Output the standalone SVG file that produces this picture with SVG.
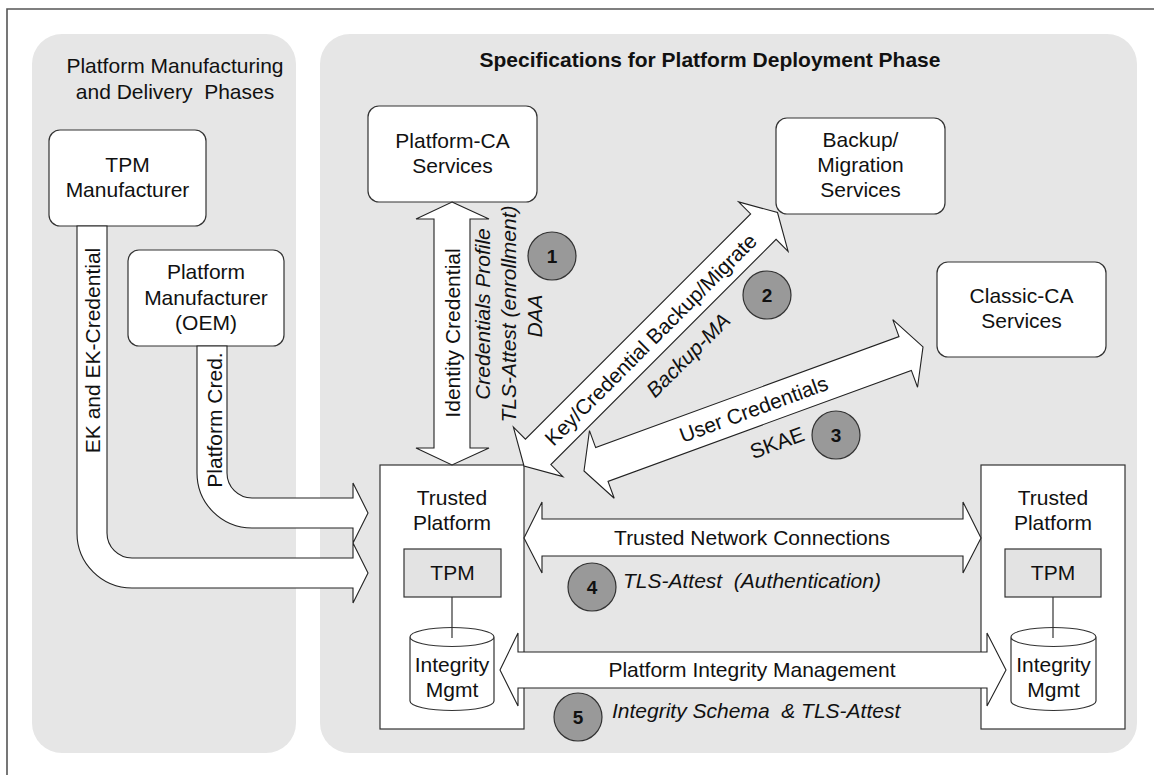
<svg xmlns="http://www.w3.org/2000/svg" width="1154" height="775" viewBox="0 0 1154 775">
  <defs>
    <style>
      .frame { fill: none; stroke: #555; stroke-width: 1.6; }
      .panel { fill: #e6e6e6; stroke: none; }
      .box { fill: #fff; stroke: #333; stroke-width: 1.2; }
      .tp { fill: #fff; stroke: #333; stroke-width: 1.2; }
      .chip { fill: #e3e3e3; stroke: #333; stroke-width: 1.2; }
      .arrow { fill: #fff; stroke: #222; stroke-width: 1.1; stroke-linejoin: miter; }
      .wire { stroke: #333; stroke-width: 1.2; fill: none; }
      .badge { fill: #999; stroke: #333; stroke-width: 1.2; }
      text { font-family: "Liberation Sans", Arial, sans-serif; font-size: 21px; fill: #111; }
      .c { text-anchor: middle; }
      .it { font-style: italic; }
      .title { font-weight: bold; }
      .num { font-weight: bold; font-size: 19px; text-anchor: middle; }
    </style>
  </defs>

  <!-- outer frame -->
  <path class="frame" d="M7,775 L7,9 L1154,9"/>

  <!-- phase panels -->
  <g id="panel-manufacturing">
    <rect class="panel" x="32" y="34" width="264" height="719" rx="30"/>
    <text class="c" x="175" y="73">Platform Manufacturing</text>
    <text class="c" x="175" y="99" xml:space="preserve">and Delivery  Phases</text>
  </g>
  <g id="panel-deployment">
    <rect class="panel" x="320" y="34" width="817" height="719" rx="30"/>
    <text class="c title" x="710" y="67">Specifications for Platform Deployment Phase</text>
  </g>

  <!-- nodes -->
  <g id="tpm-manufacturer">
    <rect class="box" x="49" y="130" width="157" height="96" rx="11"/>
    <text class="c" x="127.5" y="172">TPM</text>
    <text class="c" x="127.5" y="197">Manufacturer</text>
  </g>

  <g id="platform-manufacturer">
    <rect class="box" x="128" y="250" width="156" height="96" rx="11"/>
    <text class="c" x="206" y="279">Platform</text>
    <text class="c" x="206" y="305">Manufacturer</text>
    <text class="c" x="206" y="330">(OEM)</text>
  </g>

  <g id="platform-ca">
    <rect class="box" x="368" y="106" width="169" height="96" rx="11"/>
    <text class="c" x="452.5" y="148">Platform-CA</text>
    <text class="c" x="452.5" y="173">Services</text>
  </g>

  <g id="backup-migration">
    <rect class="box" x="776" y="118" width="169" height="96" rx="11"/>
    <text class="c" x="860.5" y="147">Backup/</text>
    <text class="c" x="860.5" y="172">Migration</text>
    <text class="c" x="860.5" y="197">Services</text>
  </g>

  <g id="classic-ca">
    <rect class="box" x="937" y="262" width="169" height="95" rx="11"/>
    <text class="c" x="1021.5" y="303">Classic-CA</text>
    <text class="c" x="1021.5" y="328">Services</text>
  </g>

  <g id="trusted-platform-local">
    <rect class="tp" x="380" y="465" width="144" height="264"/>
    <text class="c" x="452" y="505">Trusted</text>
    <text class="c" x="452" y="530">Platform</text>
    <rect class="chip" x="404" y="549" width="97" height="48"/>
    <text class="c" x="452.5" y="580">TPM</text>
    <path class="box" d="M410,637 L410,701 A42,9.5 0 0 0 494,701 L494,637 A42,9.5 0 0 0 410,637 A42,9.5 0 0 0 494,637"/>
    <line class="wire" x1="452" y1="597" x2="452" y2="638"/>
    <text class="c" x="452" y="672">Integrity</text>
    <text class="c" x="452" y="697">Mgmt</text>
  </g>

  <g id="trusted-platform-remote">
    <rect class="tp" x="981" y="465" width="144" height="264"/>
    <text class="c" x="1053" y="505">Trusted</text>
    <text class="c" x="1053" y="530">Platform</text>
    <rect class="chip" x="1005" y="549" width="96" height="48"/>
    <text class="c" x="1053" y="580">TPM</text>
    <path class="box" d="M1011,637 L1011,701 A42.5,9.5 0 0 0 1096,701 L1096,637 A42.5,9.5 0 0 0 1011,637 A42.5,9.5 0 0 0 1096,637"/>
    <line class="wire" x1="1053" y1="597" x2="1053" y2="638"/>
    <text class="c" x="1053.5" y="672">Integrity</text>
    <text class="c" x="1053.5" y="697">Mgmt</text>
  </g>

  <!-- connectors (block arrows drawn over the node frames they touch) -->
  <g id="connectors">
    <!-- EK and EK-Credential -->
    <path class="arrow" d="M77,226 L107,226 L107,533 A25,25 0 0 0 132,558 L353,558 L353,543 L368,573 L353,603 L353,588 L132,588 A55,55 0 0 1 77,533 Z"/>
    <text transform="translate(100,350.5) rotate(-90)" class="c">EK and EK-Credential</text>

    <!-- Platform Cred. -->
    <path class="arrow" d="M197,346 L227,346 L227,473 A25,25 0 0 0 252,498 L353,498 L353,483 L368,513 L353,543 L353,528 L252,528 A55,55 0 0 1 197,473 Z"/>
    <text transform="translate(222,420) rotate(-90)" class="c">Platform Cred.</text>

    <!-- Identity Credential -->
    <path class="arrow" d="M452,202 L489,219 L470,219 L470,448 L489,448 L452,465 L416,448 L434,448 L434,219 L416,219 Z"/>
    <text transform="translate(459.5,333) rotate(-90)" class="c">Identity Credential</text>
    <text transform="translate(490,314) rotate(-90)" class="c it">Credentials Profile</text>
    <text transform="translate(516,314) rotate(-90)" class="c it">TLS-Attest (enrollment)</text>
    <text transform="translate(542,316) rotate(-90)" class="c it">DAA</text>

    <!-- Key/Credential Backup/Migrate -->
    <g transform="translate(524,466) rotate(-45)">
      <path class="arrow" d="M0,0 L20,-35 L20,-18 L338.5,-18 L338.5,-35 L358.5,0 L338.5,35 L338.5,18 L20,18 L20,35 Z"/>
      <text class="c" x="179" y="7.5">Key/Credential Backup/Migrate</text>
      <text class="c it" x="194.5" y="45">Backup-MA</text>
    </g>

    <!-- User Credentials -->
    <g transform="translate(584,471) rotate(-20.1)">
      <path class="arrow" d="M0,0 L19,-36 L19,-18 L342,-18 L342,-36 L361,0 L342,36 L342,18 L19,18 L19,36 Z"/>
      <text class="c" x="180.5" y="7.5">User Credentials</text>
      <text class="c" x="191" y="47">SKAE</text>
    </g>

    <!-- Trusted Network Connections -->
    <path class="arrow" d="M524,538 L542,502 L542,519 L963,519 L963,502 L981,538 L963,573 L963,556 L542,556 L542,573 Z"/>
    <text class="c" x="752" y="545">Trusted Network Connections</text>
    <text class="it" x="623" y="588" xml:space="preserve">TLS-Attest  (Authentication)</text>

    <!-- Platform Integrity Management -->
    <path class="arrow" d="M500,670 L518,633 L518,652 L987,652 L987,633 L1006,670 L987,706 L987,688 L518,688 L518,706 Z"/>
    <text class="c" x="752" y="677">Platform Integrity Management</text>
    <text class="it" x="612" y="718" xml:space="preserve">Integrity Schema  &amp; TLS-Attest</text>
  </g>

  <!-- numbered step badges -->
  <g id="step-1"><circle class="badge" cx="552" cy="256" r="24"/><text class="num" x="552" y="263">1</text></g>
  <g id="step-2"><circle class="badge" cx="767" cy="295" r="24"/><text class="num" x="767" y="302">2</text></g>
  <g id="step-3"><circle class="badge" cx="836" cy="435" r="24"/><text class="num" x="836" y="442">3</text></g>
  <g id="step-4"><circle class="badge" cx="592" cy="587" r="24"/><text class="num" x="592" y="594">4</text></g>
  <g id="step-5"><circle class="badge" cx="578" cy="717" r="24"/><text class="num" x="578" y="724">5</text></g>
</svg>
